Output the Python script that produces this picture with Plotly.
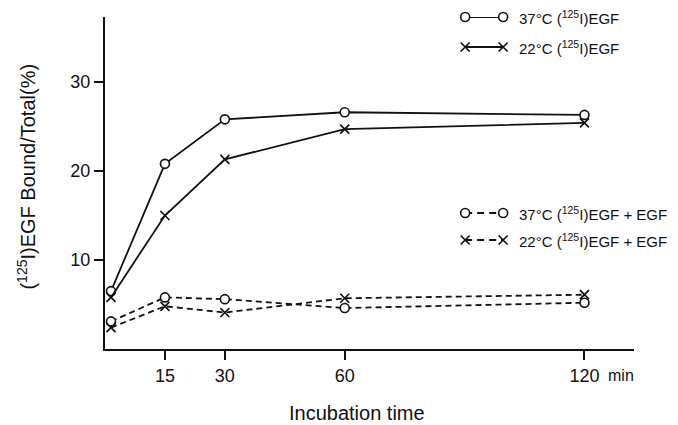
import plotly.graph_objects as go

# ---- data ----
time = [1.5, 15, 30, 60, 120]
egf37 = [6.5, 20.8, 25.8, 26.6, 26.3]
egf22 = [5.8, 15.0, 21.3, 24.7, 25.4]
egf37_cold = [3.1, 5.8, 5.6, 4.6, 5.2]
egf22_cold = [2.4, 4.8, 4.1, 5.7, 6.1]

xtick_vals = [15, 30, 60, 120]
xtick_text = ["15", "30", "60", "120"]
ytick_vals = [10, 20, 30]
ytick_text = ["10", "20", "30"]

names = ["37°C (<sup>125</sup>I)EGF",
         "22°C (<sup>125</sup>I)EGF",
         "37°C (<sup>125</sup>I)EGF + EGF",
         "22°C (<sup>125</sup>I)EGF + EGF"]

FONT = "Liberation Sans"
BLACK = "#111111"

circle = dict(symbol="circle", size=9, color="white", line=dict(color=BLACK, width=1.6))
cross = dict(symbol="x-thin", size=9, color=BLACK, line=dict(color=BLACK, width=1.7))

series = [
    (egf37, circle, "solid"),
    (egf22, cross, "solid"),
    (egf37_cold, circle, "6px,4px"),
    (egf22_cold, cross, "6px,4px"),
]

fig = go.Figure()
for vals, mk, dash in series:
    fig.add_trace(go.Scatter(x=time, y=vals, mode="lines+markers",
                             line=dict(color=BLACK, width=1.8, dash=dash),
                             marker=mk, showlegend=False, cliponaxis=False))


# pixel -> paper helpers for layout positions
def px(xp):
    return (xp - 104.5) / 529.5


def py(yp):
    return (349 - yp) / 332


# ---- hand-built legend on a pixel-space overlay axis ----
legend_rows = [17, 47, 213, 240]
legend_dash = ["solid", "solid", "7px,5px", "7px,5px"]
for (vals, mk, _), row, dsh, nm in zip(series, legend_rows, legend_dash, names):
    fig.add_trace(go.Scatter(x=[465, 503], y=[row, row], mode="lines+markers",
                             line=dict(color=BLACK, width=1.8, dash=dsh),
                             marker=mk, xaxis="x2", yaxis="y2",
                             showlegend=False, cliponaxis=False))
    fig.add_annotation(x=px(517), y=py(row), xref="paper", yref="paper", text=nm,
                       xanchor="left", yanchor="middle", showarrow=False,
                       font=dict(family=FONT, size=15, color=BLACK))

fig.add_annotation(x=px(606), y=py(375), xref="paper", yref="paper", text="min",
                   xanchor="left", yanchor="middle", showarrow=False,
                   font=dict(family=FONT, size=16, color=BLACK))
fig.add_annotation(x=px(357), y=py(413), xref="paper", yref="paper",
                   text="Incubation time", xanchor="center", yanchor="middle",
                   showarrow=False, font=dict(family=FONT, size=20, color=BLACK))
fig.add_annotation(x=px(25), y=py(177), xref="paper", yref="paper",
                   text="(<sup>125</sup>I)EGF Bound/Total(%)", textangle=-90,
                   xanchor="center", yanchor="middle", showarrow=False,
                   font=dict(family=FONT, size=20, color=BLACK))

fig.update_layout(
    width=678, height=425,
    margin=dict(l=104.5, r=44, t=17, b=76),
    paper_bgcolor="white", plot_bgcolor="white",
    xaxis=dict(range=[0, 132.4], tickvals=xtick_vals, ticktext=xtick_text,
               showgrid=False, zeroline=False, showline=True, linecolor=BLACK,
               linewidth=2, ticks="outside", ticklen=9, tickwidth=1.5,
               tickcolor=BLACK, tickfont=dict(family=FONT, size=18, color=BLACK)),
    yaxis=dict(range=[0, 37.3], tickvals=ytick_vals, ticktext=ytick_text,
               showgrid=False, zeroline=False, showline=True, linecolor=BLACK,
               linewidth=2, ticks="outside", ticklen=9, tickwidth=1.5,
               tickcolor=BLACK, tickfont=dict(family=FONT, size=18, color=BLACK)),
    xaxis2=dict(overlaying="x", range=[104.5, 634], visible=False),
    yaxis2=dict(overlaying="y", range=[349, 17], visible=False),
)

fig.write_html("out.html")
